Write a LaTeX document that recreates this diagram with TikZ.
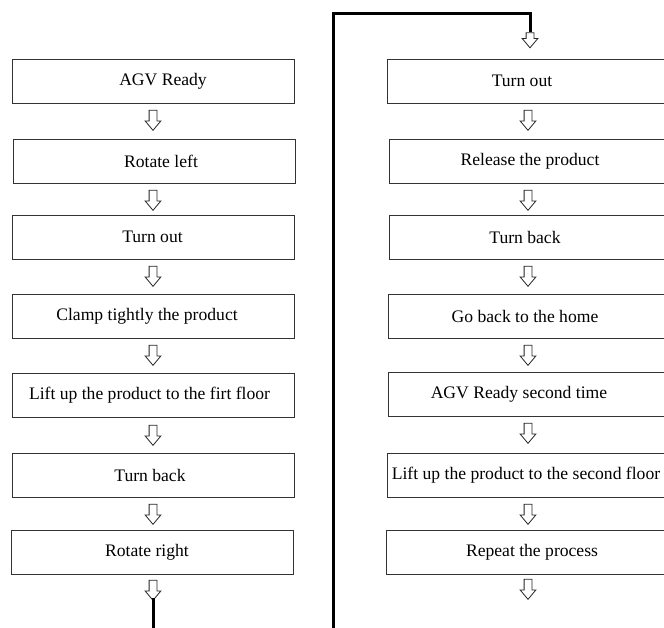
\documentclass[tikz,border=0pt]{standalone}
\usepackage{fontspec}
\setmainfont{Liberation Serif}
\usetikzlibrary{shapes.arrows}

\begin{document}
\begin{tikzpicture}[x=1pt,y=-1pt,
  stepbox/.style={draw=black!80, line width=0.9pt, fill=white,
    minimum width=282pt, minimum height=44pt, inner sep=0pt},
  lbl/.style={font=\fontsize{17.6}{20}\selectfont, inner sep=0pt},
  downarrow/.style={shape=single arrow, draw=black!85, line width=0.8pt, fill=white,
    rotate=-90, minimum height=20pt, inner xsep=0pt, inner ysep=3.5pt,
    single arrow head extend=4pt, single arrow tip angle=80, single arrow head indent=0pt},
  flowline/.style={line width=3pt, line join=miter}]

\useasboundingbox (0,0) rectangle (664,627);
\clip (0,0) rectangle (664,627);
\fill[white] (0,0) rectangle (664,627);

% left column
\node[stepbox, label={[lbl,xshift=10pt]center:AGV Ready}]    (L1) at (153,81)  {};
\node[stepbox, label={[lbl,xshift=7pt]center:Rotate left}]   (L2) at (154,161) {};
\node[stepbox, label={[lbl,xshift=-1pt]center:Turn out}]     (L3) at (153.5,237) {};
\node[stepbox, label={[lbl,xshift=-6pt]center:Clamp tightly the product}] (L4) at (153,316) {};
\node[stepbox, label={[lbl,xshift=-3.5pt]center:Lift up the product to the firt floor}] (L5) at (153,395.5) {};
\node[stepbox, label={[lbl,xshift=-3pt]center:Turn back}]    (L6) at (153,475) {};
\node[stepbox, label={[lbl,xshift=-5pt]center:Rotate right}] (L7) at (152,552) {};

% right column
\node[stepbox, label={[lbl,xshift=-6pt]center:Turn out}]            (R1) at (528,81)  {};
\node[stepbox, label={[lbl,xshift=0pt]center:Release the product}]  (R2) at (530,161) {};
\node[stepbox, label={[lbl,xshift=-5pt]center:Turn back}]           (R3) at (530,237) {};
\node[stepbox, label={[lbl,xshift=-4pt]center:Go back to the home}] (R4) at (529,316) {};
\node[stepbox, label={[lbl,xshift=-10pt]center:AGV Ready second time}] (R5) at (529,394) {};
\node[stepbox, label={[lbl,xshift=-2pt]center:Lift up the product to the second floor}] (R6) at (528,475) {};
\node[stepbox, label={[lbl,xshift=5pt]center:Repeat the process}]   (R7) at (527,552) {};

% hollow arrows, left column
\node[downarrow] (aL1) at (153,118) {};
\node[downarrow] (aL2) at (153,198) {};
\node[downarrow] (aL3) at (153,274) {};
\node[downarrow] (aL4) at (153,353) {};
\node[downarrow] (aL5) at (153,433) {};
\node[downarrow] (aL6) at (153,512) {};
\node[downarrow] (aL7) at (153,588) {};

% hollow arrows, right column
\node[downarrow, minimum height=15pt] (aR0) at (530,38) {};
\node[downarrow] (aR1) at (528,118) {};
\node[downarrow] (aR2) at (528,198) {};
\node[downarrow] (aR3) at (528,274) {};
\node[downarrow] (aR4) at (528,353) {};
\node[downarrow] (aR5) at (528,431) {};
\node[downarrow] (aR6) at (528,512) {};
\node[downarrow] (aR7) at (528,587) {};

% thick connector from the left column over to the right column
\draw[flowline] ([yshift=3pt]aL7.east) -- (153,660) -| (333,13) -| (aR0.west);

\end{tikzpicture}
\end{document}
